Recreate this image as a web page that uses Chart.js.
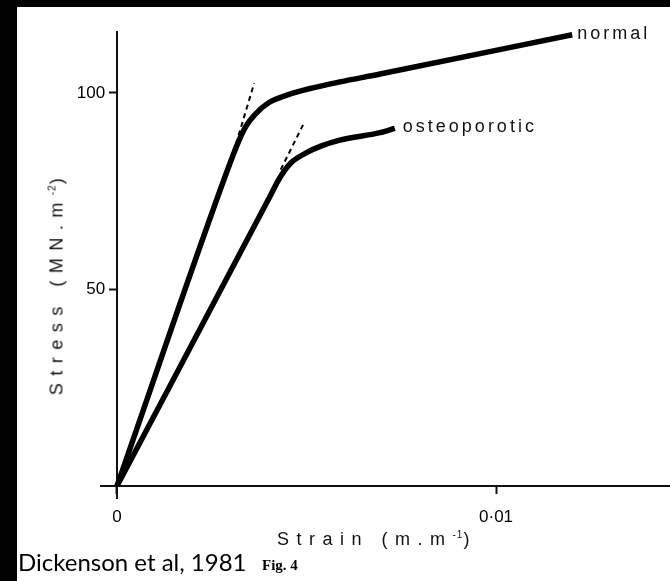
<!DOCTYPE html>
<html>
<head>
<meta charset="utf-8">
<script src="https://cdn.jsdelivr.net/npm/chart.js@4.4.1/dist/chart.umd.min.js"></script>
<style>
  body { margin: 0; background: #fff; }
  #wrap { position: relative; width: 670px; height: 581px; overflow: hidden; background: #fff; }
  #wrap canvas { position: absolute; left: 0; top: 0; }
  .frameLeft { position: absolute; left: 0; top: 0; width: 17px; height: 581px; background: #000; }
  .frameTop { position: absolute; left: 0; top: 0; width: 670px; height: 7px; background: #000; }
  .axisTitle { position: absolute; font-family: "Liberation Sans", Arial, sans-serif; font-size: 18px; color: #111; letter-spacing: 7.5px; white-space: nowrap; }
  .axisTitle sup { font-size: 10px; letter-spacing: 1px; }
  .source { position: absolute; left: 18px; top: 547px; font-family: Lato, "Open Sans", sans-serif; font-size: 24px; color: #000; white-space: nowrap; }
  .fig { position: absolute; left: 262px; top: 557px; font-family: "Liberation Serif", serif; font-weight: bold; font-size: 15px; color: #000; }
</style>
</head>
<body>
<div id="wrap">
  <canvas id="stressChart" width="670" height="581"></canvas>
  <div class="frameLeft"></div>
  <div class="frameTop"></div>
  <div class="axisTitle" id="xTitle" style="left:277px; top:529px;">Strain (m.m<sup>-1</sup>)</div>
  <div class="axisTitle" id="yTitle" style="left:57px; top:283px; transform: translate(-50%, -50%) rotate(-90deg);">Stress (MN.m<sup>-2</sup>)</div>
  <div class="source">Dickenson et al, 1981</div>
  <div class="fig">Fig. 4</div>
</div>
<script>
// strain (m/m) against stress (MN/m2)
var normalStrain = [0, 0.0029, 0.0032, 0.0034, 0.00365, 0.0040, 0.0045, 0.00517, 0.00588, 0.00694, 0.01201];
var normalStress = [0, 80, 87.5, 91.5, 94.6, 97.5, 99.5, 101.3, 102.8, 104.8, 114.8];
var osteoStrain = [0, 0.0040, 0.0043, 0.0046, 0.0050, 0.00536, 0.00588, 0.00694, 0.00733];
var osteoStress = [0, 73, 78.5, 82.3, 84.8, 86.4, 88.0, 89.9, 91.0];

// dashed tangents at the knees
var normalTanStrain = [0.00314, 0.00362];
var normalTanStress = [87, 102.5];
var osteoTanStrain = [0.00432, 0.00491];
var osteoTanStress = [80.5, 91.9];

var xTickValues = [0, 0.01];
var xTickLabels = ["0", "0·01"];
var yTickValues = [50, 100];
var yTickLabels = ["50", "100"];

function pairs(xs, ys) {
  return xs.map(function (x, i) { return { x: x, y: ys[i] }; });
}

var endLabels = {
  id: "endLabels",
  afterDatasetsDraw: function (chart) {
    var ctx = chart.ctx;
    chart.data.datasets.forEach(function (ds, i) {
      if (!ds.endLabel) return;
      var meta = chart.getDatasetMeta(i);
      var pt = meta.data[meta.data.length - 1];
      ctx.save();
      ctx.font = "18px 'Liberation Sans', Arial, sans-serif";
      ctx.letterSpacing = "3px";
      ctx.fillStyle = "#111";
      ctx.textBaseline = "middle";
      ctx.fillText(ds.endLabel, pt.x + ds.endGap, pt.y - 1);
      ctx.restore();
    });
  }
};

var axisGrid = { drawOnChartArea: false, drawTicks: true, tickLength: 7, tickWidth: 2, tickColor: "#111", color: "#111" };
var axisBorder = { display: true, color: "#111", width: 2 };
var tickFont = { family: "'Liberation Sans', Arial, sans-serif", size: 17 };

new Chart("stressChart", {
  type: "line",
  data: {
    datasets: [
      {
        label: "normal",
        endLabel: "normal",
        endGap: 5,
        data: pairs(normalStrain, normalStress),
        borderColor: "#000",
        borderWidth: 5.5,
        pointRadius: 0,
        cubicInterpolationMode: "monotone",
      },
      {
        label: "osteoporotic",
        endLabel: "osteoporotic",
        endGap: 8,
        data: pairs(osteoStrain, osteoStress),
        borderColor: "#000",
        borderWidth: 5.5,
        pointRadius: 0,
        cubicInterpolationMode: "monotone",
      },
      {
        label: "normal tangent",
        data: pairs(normalTanStrain, normalTanStress),
        borderColor: "#000",
        borderWidth: 2,
        borderDash: [5, 4],
        pointRadius: 0,
      },
      {
        label: "osteoporotic tangent",
        data: pairs(osteoTanStrain, osteoTanStress),
        borderColor: "#000",
        borderWidth: 2,
        borderDash: [5, 4],
        pointRadius: 0,
      },
    ],
  },
  options: {
    responsive: false,
    animation: false,
    layout: { padding: { left: 101, top: 32, right: 0, bottom: 83 } },
    plugins: {
      legend: { display: false },
      tooltip: { enabled: false },
    },
    scales: {
      x: {
        type: "linear",
        position: { y: 0 },
        min: -0.000422,
        max: 0.01459,
        afterBuildTicks: function (scale) {
          scale.ticks = xTickValues.map(function (v) { return { value: v }; });
        },
        ticks: {
          font: tickFont,
          color: "#000",
          padding: 14,
          maxRotation: 0,
          callback: function (value, index) { return xTickLabels[index]; },
        },
        grid: axisGrid,
        border: axisBorder,
      },
      y: {
        type: "linear",
        position: { x: 0 },
        min: -3.05,
        max: 115.5,
        afterBuildTicks: function (scale) {
          scale.ticks = yTickValues.map(function (v) { return { value: v }; });
        },
        ticks: {
          font: tickFont,
          color: "#000",
          // labels on a value-positioned axis sit flush on the line; pad them clear of the tick mark
          callback: function (value, index) { return yTickLabels[index] + "\u2002\u2009"; },
        },
        grid: axisGrid,
        border: axisBorder,
      },
    },
  },
  plugins: [endLabels],
});
</script>
</body>
</html>
